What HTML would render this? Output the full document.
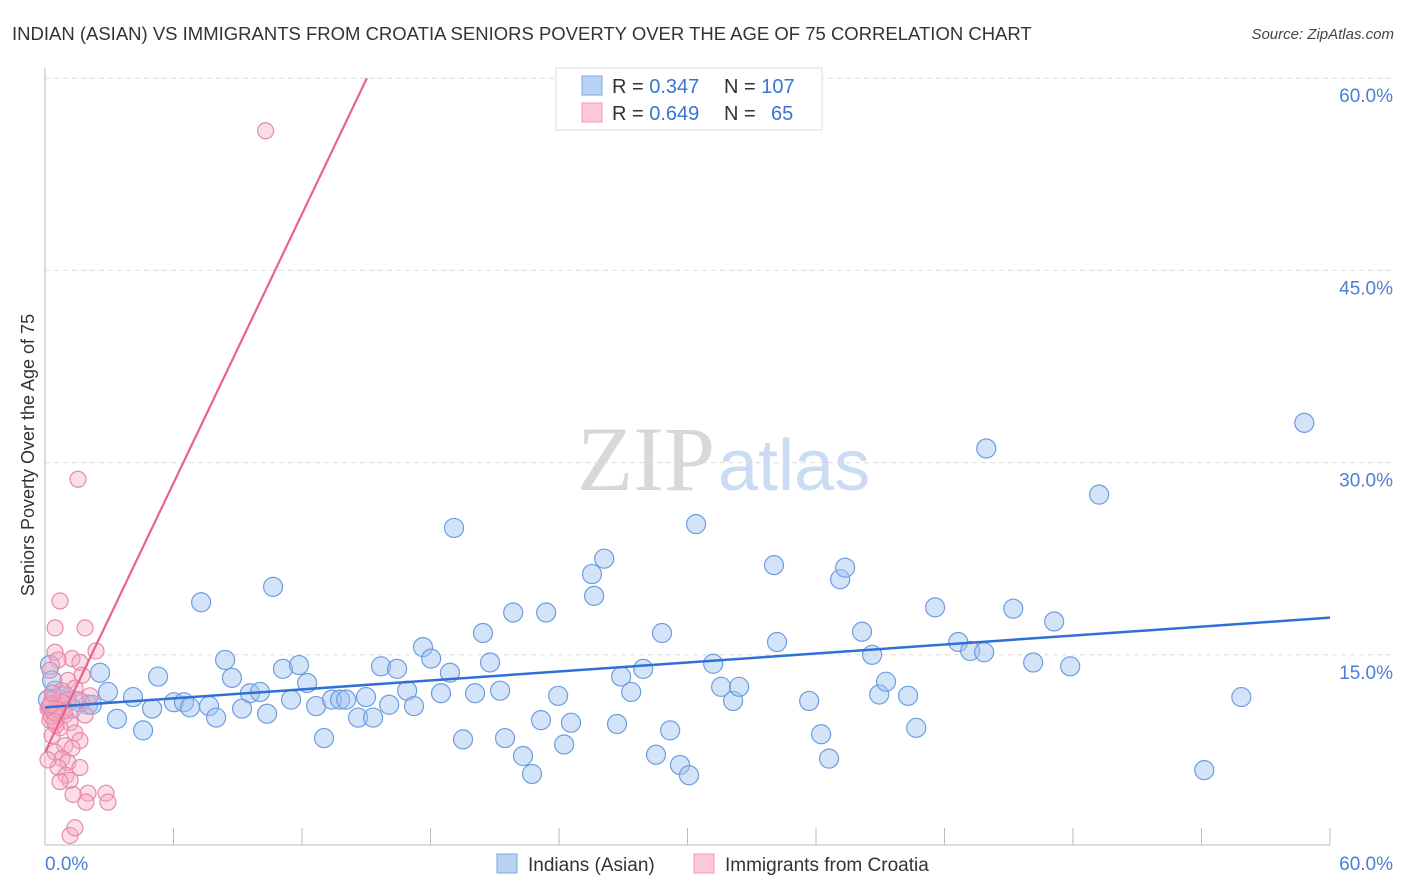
<!DOCTYPE html>
<html><head><meta charset="utf-8">
<style>
body{margin:0;background:#fff;font-family:"Liberation Sans",sans-serif;}
#wrap{position:relative;width:1406px;height:892px;overflow:hidden;}
</style></head>
<body>
<div id="wrap">
<svg id="svg" width="1406" height="892" xmlns="http://www.w3.org/2000/svg">
<text x="12" y="40" font-size="18.5" fill="#333">INDIAN (ASIAN) VS IMMIGRANTS FROM CROATIA SENIORS POVERTY OVER THE AGE OF 75 CORRELATION CHART</text>
<text x="1394" y="39" font-size="15" font-style="italic" fill="#444" text-anchor="end">Source: ZipAtlas.com</text>
<text x="715" y="490" font-size="92" fill="#d8d8d8" text-anchor="end" font-family="Liberation Serif,serif">ZIP</text>
<text x="718" y="490" font-size="72" fill="#c9dcf3">atlas</text>
<text transform="translate(34,455) rotate(-90)" font-size="18" fill="#333" text-anchor="middle">Seniors Poverty Over the Age of 75</text>
<g id="grid"></g><g id="ax"></g><g id="pts"></g><g id="trend"></g>
<g>
<rect x="556" y="68" width="266" height="62" fill="#fff" stroke="#ddd"/>
<rect x="582" y="76" width="20" height="19" fill="#b8d2f5" stroke="#7ea6e3"/>
<rect x="582" y="103" width="20" height="19" fill="#fcc8d6" stroke="#ee9ab4"/>
<text x="612" y="93" font-size="20" fill="#333">R = <tspan fill="#3a73d0">0.347</tspan></text>
<text x="724" y="93" font-size="20" fill="#333">N = <tspan fill="#3a73d0">107</tspan></text>
<text x="612" y="120" font-size="20" fill="#333">R = <tspan fill="#3a73d0">0.649</tspan></text>
<text x="724" y="120" font-size="20" fill="#333">N = <tspan fill="#3a73d0" x="771">65</tspan></text>
</g>
<g>
<rect x="497" y="854" width="20" height="19" fill="#b8d2f5" stroke="#7ea6e3"/>
<text x="528" y="871" font-size="19" fill="#333">Indians (Asian)</text>
<rect x="694" y="854" width="20" height="19" fill="#fcc8d6" stroke="#ee9ab4"/>
<text x="725" y="871" font-size="19" fill="#333">Immigrants from Croatia</text>
</g>
</svg>
</div>
<script>
const yTicks=[15,30,45,60];
const yTickLabels=["15.0%","30.0%","45.0%","60.0%"];
const xLabels=["0.0%","60.0%"];
const blueX=[2.57,2.94,2.01,1.63,2.19,4.11,3.36,4.58,5.00,5.28,6.02,6.49,6.77,7.29,7.66,7.99,8.41,8.73,9.20,9.57,10.04,10.37,10.65,11.11,11.49,11.86,12.24,12.66,13.03,13.40,13.78,14.06,14.62,14.99,15.32,15.69,16.07,16.44,16.91,17.23,17.65,18.03,18.49,18.91,19.10,19.52,20.08,20.45,20.78,21.25,21.48,21.86,22.32,22.74,23.16,23.40,23.96,24.24,24.56,25.54,25.64,26.11,26.71,26.90,27.37,27.93,28.53,28.81,29.19,29.65,30.07,30.40,31.20,31.57,32.13,32.41,34.04,34.18,35.68,36.24,36.61,37.13,37.36,38.15,38.62,38.95,39.27,40.30,40.68,41.56,42.64,43.20,43.85,43.95,45.21,46.14,47.12,47.87,49.22,54.13,55.86,58.80,0.23,0.47,0.70,0.93,1.26,0.14,0.33];
const blueY=[13.6,12.1,11.1,11.3,11.1,11.7,10.0,9.1,10.8,13.3,11.3,11.3,10.9,19.1,11.0,10.1,14.6,13.2,10.8,12.0,12.1,10.4,20.3,13.9,11.5,14.2,12.8,11.0,8.5,11.5,11.5,11.5,10.1,11.7,10.1,14.1,11.1,13.9,12.2,11.0,15.6,14.7,12.0,13.6,24.9,8.4,12.0,16.7,14.4,12.2,8.5,18.3,7.1,5.7,9.9,18.3,11.8,8.0,9.7,21.3,19.6,22.5,9.6,13.3,12.1,13.9,7.2,16.7,9.1,6.4,5.6,25.2,14.3,12.5,11.4,12.5,22.0,16.0,11.4,8.8,6.9,20.9,21.8,16.8,15.0,11.9,12.9,11.8,9.3,18.7,16.0,15.3,15.2,31.1,18.6,14.4,17.6,14.1,27.5,6.0,11.7,33.1,14.2,12.2,11.5,11.8,10.8,11.5,13.0];
const pinkX=[10.3,1.54,0.70,0.47,1.87,2.38,0.47,1.26,1.63,0.61,0.23,1.07,1.40,0.79,0.33,0.61,0.14,0.42,0.93,0.23,1.17,0.70,1.40,0.33,1.63,0.93,1.26,0.47,0.79,1.07,0.61,1.63,0.98,1.17,0.70,1.31,2.01,2.85,2.94,1.91,1.17,1.40,0.14,1.87,1.54,2.10,1.73,0.51,0.79,1.07,0.2,0.4,0.3,0.5,0.6,0.2,0.9,0.3,0.5,0.8,0.4,0.6,0.25,0.35,0.45];
const pinkY=[55.9,28.7,19.2,17.1,17.1,15.3,15.2,14.7,14.4,14.6,13.8,13.0,12.4,12.2,11.5,11.1,10.8,10.5,10.3,9.9,9.7,9.3,8.9,8.7,8.3,7.9,7.7,7.4,6.9,6.6,6.2,6.2,5.6,5.2,5.1,4.1,4.2,4.2,3.5,3.5,0.9,1.5,6.8,10.3,11.5,11.8,13.4,9.5,10.7,11.5,10.9,10.6,11.2,10.4,10.8,11.0,10.6,10.2,10.9,11.3,10.5,10.7,11.1,12.0,9.8];
const blueTrend=[10.9,17.9];
const pinkTrend=[7.4,3.5];
const NS="http://www.w3.org/2000/svg";
const X0=45,X1=1330,Y0=847,PPY=192.2/15;
function sx(v){return X0+(v/60)*(X1-X0);}
function sy(v){return Y0-v*PPY;}
function mk(tag,attrs,parent){const e=document.createElementNS(NS,tag);for(const k in attrs)e.setAttribute(k,attrs[k]);parent.appendChild(e);return e;}
const grid=document.getElementById('grid'),ax=document.getElementById('ax'),pts=document.getElementById('pts'),tr=document.getElementById('trend');
yTicks.forEach((t,i)=>{
 const l=mk('line',{x1:X0,x2:1395,y1:sy(t),y2:sy(t),stroke:'#ddd','stroke-dasharray':'5,4'},grid);
 
 
 const tx=mk('text',{x:1393,y:sy(t)+24,'font-size':19,fill:'#4a7fd6','text-anchor':'end'},ax);
 tx.textContent=yTickLabels[i];
 
 
});
const la=mk('line',{x1:X0,x2:X0,y1:68,y2:845,stroke:'#bbb'},ax);


const xa=mk('line',{x1:X0,x2:X1,y1:845,y2:845,stroke:'#bbb'},ax);


for(let i=0;i<=10;i++){
 const x=sx(i*6);
 const t=mk('line',{x1:x,x2:x,y1:828,y2:845,stroke:'#bbb'},ax);
 
 
}
const xl0=mk('text',{x:45,y:870,'font-size':19,fill:'#4a7fd6'},ax);xl0.textContent=xLabels[0];


const xl1=mk('text',{x:1393,y:870,'font-size':19,fill:'#4a7fd6','text-anchor':'end'},ax);xl1.textContent=xLabels[1];


blueX.forEach((v,i)=>{
 const c=mk('circle',{cx:sx(v),cy:sy(blueY[i]),r:9.5,fill:'rgba(160,195,240,0.45)',stroke:'#6d9de0','stroke-width':1.2},pts);
 
 
});
pinkX.forEach((v,i)=>{
 const c=mk('circle',{cx:sx(v),cy:sy(pinkY[i]),r:8,fill:'rgba(245,170,195,0.4)',stroke:'#e88aa8','stroke-width':1.2},pts);
 
 
});
const bl=mk('line',{x1:sx(0),y1:sy(blueTrend[0]),x2:sx(60),y2:sy(blueTrend[1]),stroke:'#2f6fd6','stroke-width':2.5},tr);


const xe=(60-pinkTrend[0])/pinkTrend[1];
const pl=mk('line',{x1:sx(0),y1:sy(pinkTrend[0]),x2:sx(xe),y2:sy(60),stroke:'#e8638e','stroke-width':2.2},tr);


</script>
</body></html>
